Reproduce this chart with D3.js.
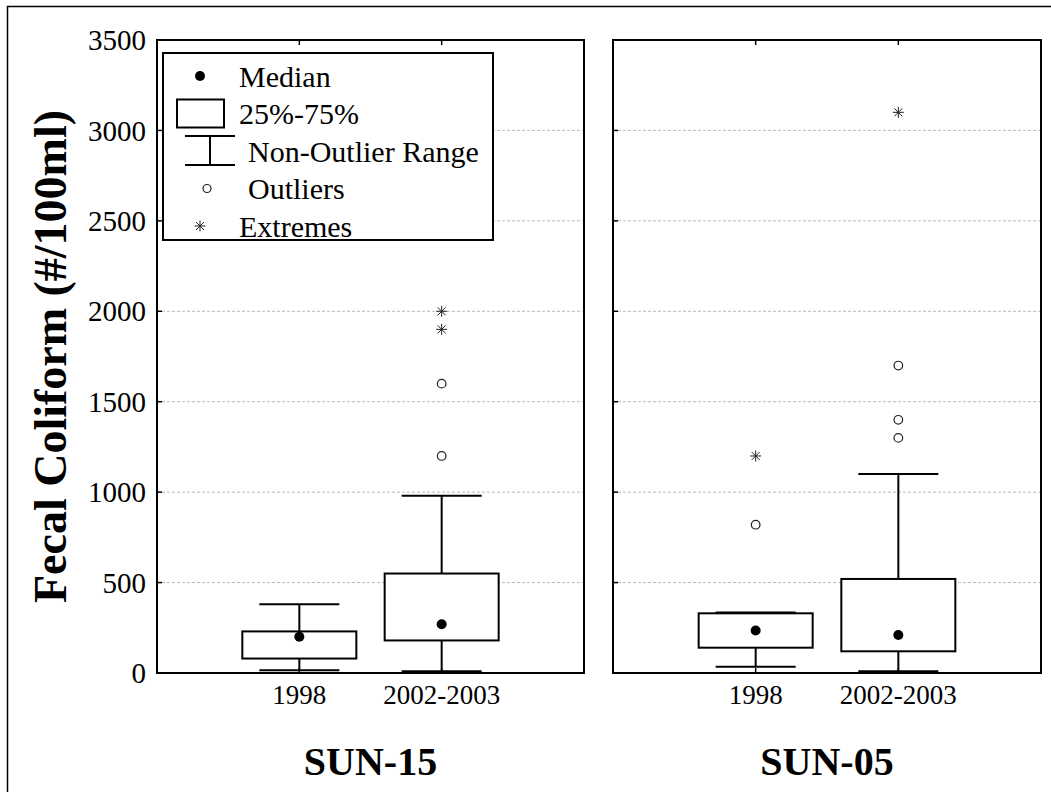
<!DOCTYPE html>
<html>
<head>
<meta charset="utf-8">
<script src="https://cdn.jsdelivr.net/npm/d3@7"></script>
<style>
body { margin: 0; background: #fff; }
text { font-family: "Liberation Serif", "Times New Roman", serif; fill: #000; }
</style>
</head>
<body>
<div id="chart"></div>
<script>
// chart data
var sites = ["SUN-15", "SUN-05"];
var periods = ["1998", "2002-2003"];
var yTicks = [0, 500, 1000, 1500, 2000, 2500, 3000, 3500];

// box stats per site, in periods order
var medians   = [[200, 270], [235, 210]];
var q1        = [[80, 180], [140, 120]];
var q3        = [[230, 550], [330, 520]];
var whiskLow  = [[15, 10], [35, 10]];
var whiskHigh = [[380, 980], [335, 1100]];
var outliers  = [[[], [1600, 1200]], [[820], [1700, 1400, 1300]]];
var extremes  = [[[], [2000, 1900]], [[1200], [3100]]];

var legendLabels = ["Median", "25%-75%", "Non-Outlier Range", "Outliers", "Extremes"];

var svgWidth = 1051, svgHeight = 792;
var svg = d3.select("#chart").append("svg")
    .attr("width", svgWidth)
    .attr("height", svgHeight);

// outer frame (clipped on right/bottom like the source)
svg.append("rect")
    .attr("x", 7.5).attr("y", 6.5)
    .attr("width", 1100).attr("height", 900)
    .attr("fill", "none").attr("stroke", "#000").attr("stroke-width", 1.5);

var plotTop = 40, plotBottom = 673;
var panelX = [[157, 584], [613, 1041]];

var yscale = d3.scaleLinear().domain([0, 3500]).range([plotBottom, plotTop]);

// y tick labels (left panel only)
svg.append("g").selectAll("text")
    .data(yTicks).enter().append("text")
    .attr("x", 146)
    .attr("y", d => yscale(d))
    .attr("dy", "0.35em")
    .attr("text-anchor", "end")
    .style("font-size", "29px")
    .text(d => d);

// y axis title
svg.append("text")
    .attr("transform", "translate(50," + ((plotTop + plotBottom) / 2) + ") rotate(-90)")
    .attr("dy", "0.35em")
    .attr("text-anchor", "middle")
    .style("font-size", "46px")
    .style("font-weight", "bold")
    .text("Fecal Coliform (#/100ml)");

function asterisk(g, cx, cy) {
    var r = 5.5, d = 4;
    var segs = [[-r, 0, r, 0], [0, -r, 0, r], [-d, -d, d, d], [-d, d, d, -d]];
    segs.forEach(function(s) {
        g.append("line")
            .attr("x1", cx + s[0]).attr("y1", cy + s[1])
            .attr("x2", cx + s[2]).attr("y2", cy + s[3])
            .attr("stroke", "#222").attr("stroke-width", 1);
    });
}

sites.forEach(function(site, si) {
    var x0 = panelX[si][0], x1 = panelX[si][1];
    var xscale = d3.scalePoint().domain(periods).range([x0, x1]).padding(1);
    var g = svg.append("g");

    // dashed grid lines
    g.selectAll("line.grid")
        .data(yTicks.filter(d => d > 0 && d < 3500)).enter().append("line")
        .attr("class", "grid")
        .attr("x1", x0).attr("x2", x1)
        .attr("y1", d => yscale(d)).attr("y2", d => yscale(d))
        .attr("stroke", "#bbb").attr("stroke-width", 1)
        .attr("stroke-dasharray", "3,2");

    // inward ticks on left edge
    g.selectAll("line.ytick")
        .data(yTicks).enter().append("line")
        .attr("x1", x0).attr("x2", x0 + 5)
        .attr("y1", d => yscale(d)).attr("y2", d => yscale(d))
        .attr("stroke", "#000").attr("stroke-width", 1.5);

    // category ticks top and bottom
    periods.forEach(function(p) {
        g.append("line")
            .attr("x1", xscale(p)).attr("x2", xscale(p))
            .attr("y1", plotTop).attr("y2", plotTop + 5)
            .attr("stroke", "#000").attr("stroke-width", 1.5);
        g.append("line")
            .attr("x1", xscale(p)).attr("x2", xscale(p))
            .attr("y1", plotBottom).attr("y2", plotBottom - 5)
            .attr("stroke", "#000").attr("stroke-width", 1.5);
    });

    // x tick labels
    g.selectAll("text.xlab")
        .data(periods).enter().append("text")
        .attr("x", d => xscale(d))
        .attr("y", 704)
        .attr("text-anchor", "middle")
        .style("font-size", "27px")
        .text(d => d);

    // panel title
    g.append("text")
        .attr("x", (x0 + x1) / 2)
        .attr("y", 775)
        .attr("text-anchor", "middle")
        .style("font-size", "40px")
        .style("font-weight", "bold")
        .text(site);

    var boxW = 114, capW = 80;
    periods.forEach(function(p, pi) {
        var cx = xscale(p);
        // whisker stem
        g.append("line")
            .attr("x1", cx).attr("x2", cx)
            .attr("y1", yscale(whiskLow[si][pi])).attr("y2", yscale(whiskHigh[si][pi]))
            .attr("stroke", "#000").attr("stroke-width", 2);
        // caps
        [whiskLow[si][pi], whiskHigh[si][pi]].forEach(function(v) {
            g.append("line")
                .attr("x1", cx - capW / 2).attr("x2", cx + capW / 2)
                .attr("y1", yscale(v)).attr("y2", yscale(v))
                .attr("stroke", "#000").attr("stroke-width", 2);
        });
        // box
        g.append("rect")
            .attr("x", cx - boxW / 2)
            .attr("y", yscale(q3[si][pi]))
            .attr("width", boxW)
            .attr("height", yscale(q1[si][pi]) - yscale(q3[si][pi]))
            .attr("fill", "#fff").attr("stroke", "#000").attr("stroke-width", 2);
        // median
        g.append("circle")
            .attr("cx", cx).attr("cy", yscale(medians[si][pi]))
            .attr("r", 5).attr("fill", "#000");
        // outliers
        outliers[si][pi].forEach(function(v) {
            g.append("circle")
                .attr("cx", cx).attr("cy", yscale(v))
                .attr("r", 4.3).attr("fill", "none")
                .attr("stroke", "#222").attr("stroke-width", 1.2);
        });
        // extremes
        extremes[si][pi].forEach(function(v) {
            asterisk(g, cx, yscale(v));
        });
    });

    // panel frame
    g.append("rect")
        .attr("x", x0).attr("y", plotTop)
        .attr("width", x1 - x0).attr("height", plotBottom - plotTop)
        .attr("fill", "none").attr("stroke", "#000").attr("stroke-width", 2);
});

// legend
var lg = svg.append("g");
lg.append("rect")
    .attr("x", 163).attr("y", 53)
    .attr("width", 330).attr("height", 187)
    .attr("fill", "#fff").attr("stroke", "#000").attr("stroke-width", 2);

var rowY = d3.scalePoint().domain(legendLabels).range([76, 226]);
var textX = [239, 239, 248, 248, 239];

lg.selectAll("text")
    .data(legendLabels).enter().append("text")
    .attr("x", (d, i) => textX[i])
    .attr("y", d => rowY(d))
    .attr("dy", "0.35em")
    .style("font-size", "30px")
    .text(d => d);

lg.append("circle")
    .attr("cx", 200).attr("cy", rowY("Median"))
    .attr("r", 5).attr("fill", "#000");
lg.append("rect")
    .attr("x", 177).attr("y", rowY("25%-75%") - 14)
    .attr("width", 47).attr("height", 28)
    .attr("fill", "none").attr("stroke", "#000").attr("stroke-width", 2);
var wy = rowY("Non-Outlier Range");
lg.append("line").attr("x1", 185).attr("x2", 235).attr("y1", wy - 15).attr("y2", wy - 15)
    .attr("stroke", "#000").attr("stroke-width", 2);
lg.append("line").attr("x1", 185).attr("x2", 235).attr("y1", wy + 14).attr("y2", wy + 14)
    .attr("stroke", "#000").attr("stroke-width", 2);
lg.append("line").attr("x1", 210).attr("x2", 210).attr("y1", wy - 15).attr("y2", wy + 14)
    .attr("stroke", "#000").attr("stroke-width", 2);
lg.append("circle")
    .attr("cx", 207).attr("cy", rowY("Outliers"))
    .attr("r", 4).attr("fill", "none").attr("stroke", "#222").attr("stroke-width", 1.2);
asterisk(lg, 200, rowY("Extremes"));
</script>
</body>
</html>
